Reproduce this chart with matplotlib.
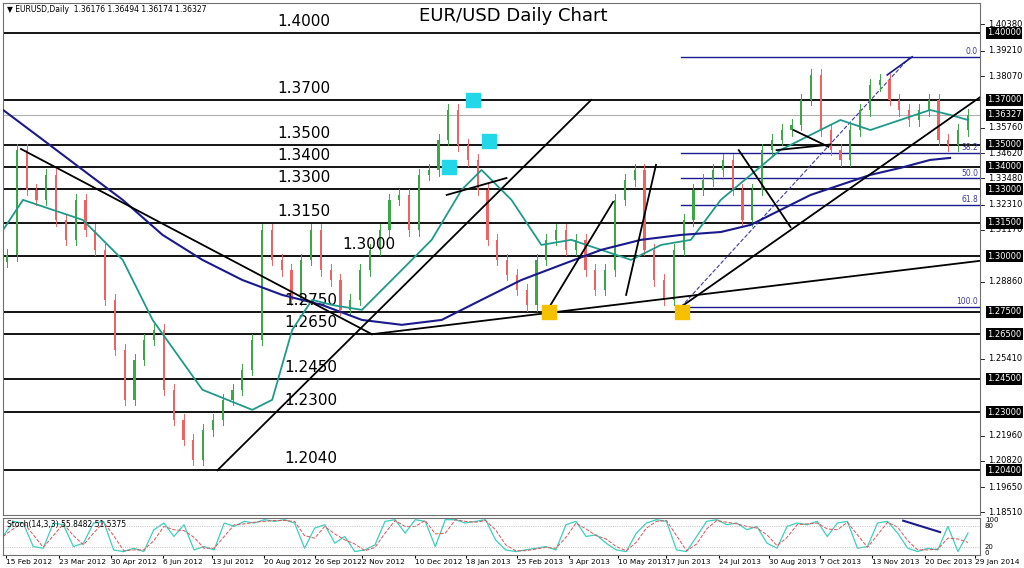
import matplotlib
matplotlib.use("Agg")
import matplotlib.pyplot as plt
import numpy as np
import pandas as pd

closes = [1.3005,1.3476,1.3297,1.3252,1.3364,1.3162,1.3073,1.3252,1.3117,1.3028,1.2804,1.2580,1.2356,1.2535,
1.2625,1.2669,1.2401,1.2266,1.2177,1.2087,1.2221,1.2266,1.2356,1.2401,1.2490,1.2625,1.3117,1.2983,1.2938,
1.2804,1.2983,1.3117,1.2938,1.2893,1.2759,1.2804,1.2938,1.3028,1.3117,1.3252,1.3274,1.3117,1.3364,1.3386,
1.3521,1.3655,1.3498,1.3431,1.3297,1.3073,1.2983,1.2916,1.2849,1.2781,1.2983,1.3073,1.3117,1.3028,1.3073,
1.2938,1.2849,1.2938,1.3252,1.3341,1.3386,1.3028,1.2893,1.2804,1.3028,1.3162,1.3297,1.3341,1.3386,1.3431,
1.3297,1.3162,1.3297,1.3476,1.3521,1.3565,1.3588,1.3700,1.3812,1.3565,1.3476,1.3431,1.3565,1.3655,1.3767,
1.3789,1.3700,1.3655,1.3610,1.3655,1.3700,1.3521,1.3498,1.3565,1.36327]
ma_fast = [1.3117,1.3252,1.3207,1.3162,1.2983,1.2714,1.2401,1.2311,1.2356,1.2669,1.2804,1.2781,1.2759,1.2938,
1.3073,1.3297,1.3386,1.3252,1.3050,1.3073,1.3028,1.2983,1.3050,1.3073,1.3252,1.3364,1.3476,1.3543,1.3610,
1.3565,1.3610,1.3655,1.3633,1.3610]
ma_fast_x = [0,20,50,80,120,150,200,250,270,290,310,330,360,400,430,460,480,510,540,570,600,630,660,690,720,
750,780,810,840,870,900,930,950,968]
ma_slow = [1.3655,1.3521,1.3386,1.3252,1.3095,1.2983,1.2893,1.2826,1.2781,1.2714,1.2692,1.2714,1.2804,1.2893,
1.2961,1.3028,1.3073,1.3095,1.3108,1.3140,1.3207,1.3274,1.3319,1.3364,1.3395,1.3431,1.3440]
ma_slow_x = [0,40,80,120,160,200,240,280,320,360,400,440,480,520,560,600,640,680,720,750,780,810,840,870,900,930,950]
stoch = [50,95,90,20,15,90,85,20,30,90,95,10,5,15,5,70,90,50,85,10,20,10,90,80,95,90,100,95,100,90,15,75,85,
30,50,5,10,25,95,100,60,100,95,20,100,100,90,95,100,40,10,5,10,15,20,10,85,95,50,55,30,10,5,60,90,100,95,10,
5,50,95,100,85,90,70,80,30,15,80,90,85,95,50,90,95,15,20,90,95,60,15,5,15,10,80,5,60]
levels = [1.4000,1.3700,1.3500,1.3400,1.3300,1.3150,1.3000,1.2750,1.2650,1.2450,1.2300,1.2040]
level_labels = ["1.4000","1.3700","1.3500","1.3400","1.3300","1.3150","1.3000","1.2750","1.2650","1.2450","1.2300","1.2040"]
level_label_x = [275,275,275,275,275,275,340,282,282,282,282,282]
fib_levels = [1.3893,1.3462,1.3348,1.3231,1.2772]
fib_labels = ["0.0","38.2","50.0","61.8","100.0"]
gray_ticks = [1.40380,1.39210,1.38070,1.35760,1.34620,1.33480,1.32310,1.31170,1.28860,
1.25410,1.21960,1.20820,1.19650,1.18510]
box_ticks = [1.40000,1.37000,1.35000,1.34000,1.33000,1.31500,1.30000,1.27500,1.26500,1.24500,1.23000,1.20400]
current = 1.36327
date_labels = ["15 Feb 2012","23 Mar 2012","30 Apr 2012","6 Jun 2012","13 Jul 2012","20 Aug 2012","26 Sep 2012",
"2 Nov 2012","10 Dec 2012","18 Jan 2013","25 Feb 2013","3 Apr 2013","10 May 2013","17 Jun 2013","24 Jul 2013",
"30 Aug 2013","7 Oct 2013","13 Nov 2013","20 Dec 2013","29 Jan 2014"]
date_x = [3,56,108,160,210,262,313,360,413,464,516,568,617,665,718,768,820,872,925,975]
trendlines = [((18,1.3480),(370,1.2650)),((215,1.2040),(590,1.3700)),((370,1.2650),(1010,1.2995)),
((680,1.2772),(1010,1.3806)),((445,1.3274),(505,1.3350)),((548,1.2772),(612,1.3243)),
((625,1.2826),(655,1.3409)),((738,1.3475),(790,1.3130)),((793,1.3565),(828,1.3490)),((776,1.3475),(830,1.3500))]
cyan_pts = [(471,1.3700),(487,1.3514),(447,1.3400)]
yellow_pts = [(548,1.2750),(681,1.2750)]

fig = plt.figure(figsize=(10.24,5.68), dpi=100)
ax = fig.add_axes([0.003,0.093,0.954,0.902])
sx = fig.add_axes([0.003,0.023,0.954,0.065])
XL = 980
ax.set_xlim(0,XL); ax.set_ylim(1.1839,1.4135)
n = len(closes)
xs = np.linspace(4,968,n)
opens = [closes[0]-0.003]+closes[:-1]
for x,o,c in zip(xs,opens,closes):
    col = '#3aa845' if c>=o else '#f06262'
    hi = max(o,c)+0.0025; lo = min(o,c)-0.0025
    ax.plot([x,x],[lo,hi],color=col,lw=0.7,zorder=3)
    ax.bar(x,abs(c-o) or 0.0004,bottom=min(o,c),width=2.2,color=col,zorder=3)
for lv,lb,lx in zip(levels,level_labels,level_label_x):
    ax.axhline(lv,color='black',lw=1.3,zorder=2)
    ax.text(lx,lv+0.0018,lb,fontsize=11,va='bottom',ha='left')
ax.axhline(current,color='#b0b0b0',lw=0.8,zorder=1)
for fl,fb in zip(fib_levels,fib_labels):
    ax.plot([680,XL],[fl,fl],color='#1a1a8c',lw=1,zorder=2)
    ax.text(XL-2,fl+0.0003,fb,fontsize=5.5,color='#3a3aa0',ha='right',va='bottom')
ax.plot([680,910],[fib_levels[4],fib_levels[0]],color='#3a3aa0',lw=0.8,ls='--',zorder=2)
ax.plot([887,912],[1.3812,1.3893],color='#1a1a8c',lw=1.2)
ax.plot(ma_fast_x,ma_fast,color='#1f9a8a',lw=1.3,zorder=4)
ax.plot(ma_slow_x,ma_slow,color='#1a1a8c',lw=1.5,zorder=4)
for (a,b) in trendlines:
    ax.plot([a[0],b[0]],[a[1],b[1]],color='black',lw=1.3,zorder=5,clip_on=True)
ax.scatter(*zip(*cyan_pts),marker='s',s=110,color='#22d8e8',zorder=6)
ax.scatter(*zip(*yellow_pts),marker='s',s=110,color='#f5c000',zorder=6)
ax.set_xticks([]); ax.set_yticks([])
ax.text(512,1.4055,"EUR/USD Daily Chart",fontsize=13,ha='center')
ax.text(4,1.4125,"\u25BC EURUSD,Daily  1.36176 1.36494 1.36174 1.36327",fontsize=5.5,va='top')
for t in gray_ticks:
    ax.text(XL+8,t,"%.5f"%t,fontsize=6,va='center',ha='left',clip_on=False)
    ax.plot([XL,XL+4],[t,t],color='black',lw=0.6,clip_on=False)
for t in box_ticks+[current]:
    ax.text(XL+7,t,"%.5f"%t,fontsize=6,va='center',ha='left',color='white',clip_on=False,
            bbox=dict(facecolor='black',edgecolor='none',pad=1))
for s in ax.spines.values(): s.set_color('#707070')

sx.set_xlim(0,XL); sx.set_ylim(-5,105)
sxs = np.linspace(0,968,len(stoch))
sx.plot(sxs,stoch,color='#3ad0c0',lw=0.9)
sx.plot(sxs,pd.Series(stoch).rolling(2,min_periods=1).mean(),color='#e05050',lw=0.7,ls='--')
sx.axhline(80,color='#b0b0b0',lw=0.6,ls=':'); sx.axhline(20,color='#b0b0b0',lw=0.6,ls=':')
sx.plot([903,940],[97,63],color='#1a1a8c',lw=1.5)
sx.set_yticks([]); sx.set_xticks(date_x)
sx.set_xticklabels(date_labels,fontsize=5.3,ha='left')
sx.tick_params(axis='x',length=2,pad=1)
sx.text(4,100,"Stoch(14,3,3) 55.8482 51.5375",fontsize=5.5,va='top')
for v in [100,80,20,0]:
    sx.text(XL+5,v,str(v),fontsize=5,va='center',clip_on=False)
for s in sx.spines.values(): s.set_color('#707070')
fig.savefig("out.png",dpi=100)
